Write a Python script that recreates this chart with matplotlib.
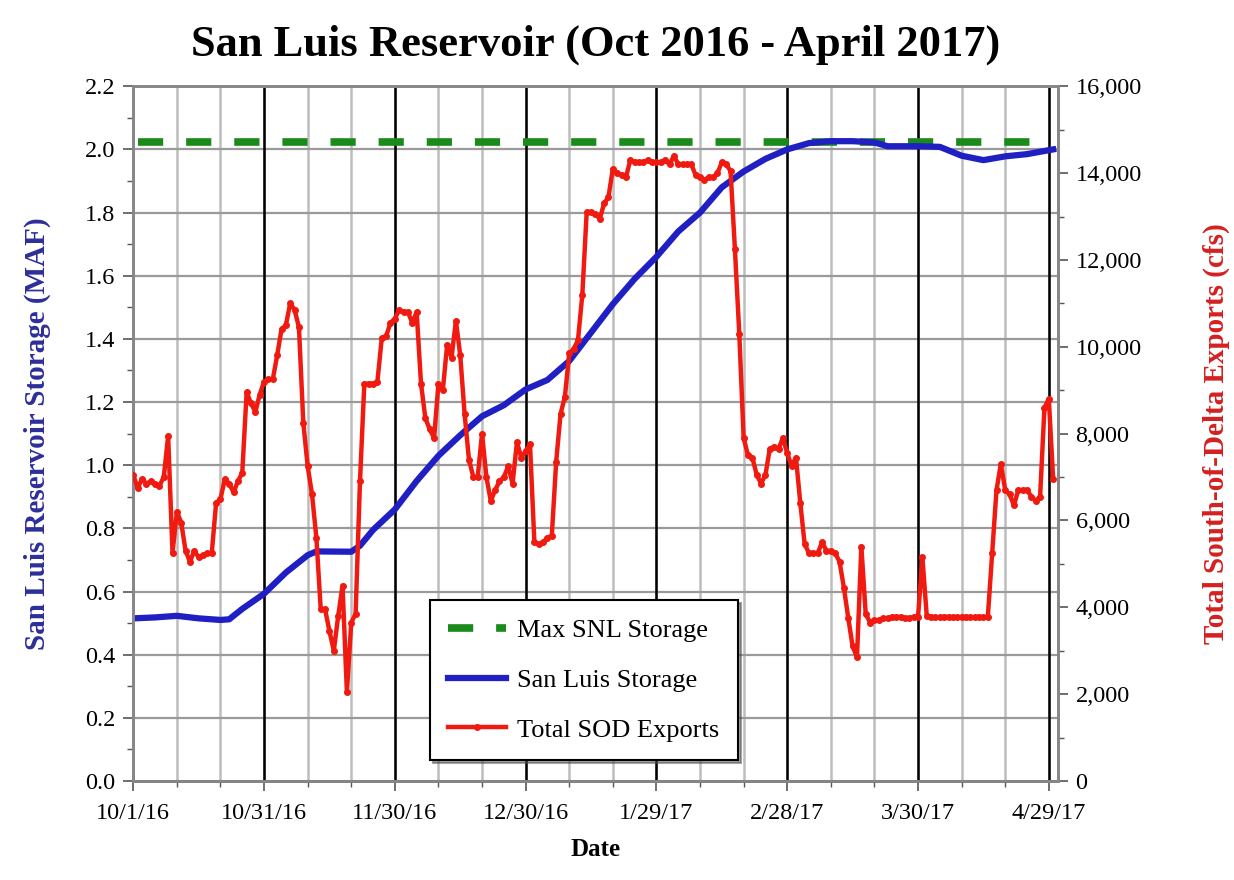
import numpy as np
import matplotlib
matplotlib.use('Agg')
import matplotlib.pyplot as plt
from matplotlib.ticker import MultipleLocator, FuncFormatter

plt.rcParams['font.family'] = ['Liberation Serif', 'DejaVu Serif']

# ─── Data (days since 10/1/16) ────────────────────────────────────────────────
tick_days = [0, 30, 60, 90, 120, 150, 180, 210]
tick_labels = ['10/1/16', '10/31/16', '11/30/16', '12/30/16',
               '1/29/17', '2/28/17', '3/30/17', '4/29/17']

max_storage = 2.025  # MAF

storage_days = [0, 5, 10, 15, 20, 22, 25, 30, 35, 40, 42, 50, 52, 55, 60, 65,
                70, 75, 80, 85, 90, 95, 100, 105, 110, 115, 120, 125, 130,
                135, 140, 145, 150, 155, 160, 165, 170, 173, 180, 185, 190,
                195, 200, 205, 211]
storage_maf = [0.515, 0.518, 0.523, 0.515, 0.510, 0.512, 0.545, 0.593, 0.660,
               0.715, 0.727, 0.726, 0.745, 0.795, 0.860, 0.950, 1.030, 1.095,
               1.155, 1.190, 1.240, 1.270, 1.330, 1.420, 1.510, 1.590, 1.660,
               1.740, 1.800, 1.880, 1.930, 1.970, 2.000, 2.020, 2.026, 2.026,
               2.022, 2.010, 2.010, 2.008, 1.980, 1.966, 1.978, 1.985, 2.000]

sod_exports = [
    7050, 6750, 6950, 6850, 6900, 6850, 6800, 7000, 7950, 5250,
    6200, 5950, 5300, 5050, 5300, 5150, 5200, 5250, 5250, 6400,
    6500, 6950, 6850, 6650, 6900, 7100, 8950, 8700, 8500, 8900,
    9200, 9250, 9250, 9800, 10400, 10500, 11000, 10850, 10450, 8250,
    7250, 6600, 5600, 3950, 3950, 3450, 3000, 3800, 4500, 2050,
    3650, 3850, 6900, 9150, 9150, 9150, 9200, 10200, 10250, 10550,
    10650, 10850, 10800, 10800, 10550, 10800, 9150, 8350, 8100, 7900,
    9150, 9000, 10050, 9750, 10600, 9800, 8450, 7400, 7000, 7000,
    8000, 7000, 6450, 6700, 6900, 7000, 7250, 6850, 7800, 7450,
    7600, 7750, 5500, 5450, 5500, 5600, 5650, 7350, 8450, 8850,
    9850, 9950, 10150, 11200, 13100, 13100, 13050, 12950, 13300, 13450,
    14100, 14000, 13950, 13900, 14300, 14250, 14250, 14250, 14300, 14250,
    14250, 14250, 14300, 14200, 14400, 14200, 14200, 14200, 14200, 13950,
    13900, 13850, 13900, 13900, 14000, 14250, 14200, 14050, 12250, 10300,
    7900, 7500, 7450, 7050, 6850, 7050, 7650, 7700, 7650, 7900,
    7550, 7250, 7450, 6400, 5450, 5250, 5250, 5250, 5500, 5300,
    5300, 5250, 5050, 4450, 3750, 3100, 2850, 5400, 3850, 3650,
    3700, 3700, 3750, 3750, 3780, 3780, 3780, 3750, 3750, 3780,
    3780, 5150, 3800, 3780, 3770, 3770, 3780, 3780, 3770, 3770,
    3780, 3780, 3770, 3770, 3780, 3770, 3770, 5250, 6700, 7300,
    6700, 6600, 6350, 6700, 6700, 6700, 6550, 6450, 6550, 8600,
    8800, 6950,
]
export_days = np.arange(len(sod_exports))

# ─── Figure ───────────────────────────────────────────────────────────────────
fig = plt.figure(figsize=(12.34, 8.8), dpi=100)
ax = fig.add_axes([0.108, 0.1125, 0.749, 0.7895])
ax2 = ax.twinx()

# grid: gray every 10 days / 0.2 MAF, black every 30 days
for d in range(0, 213, 10):
    ax.axvline(d, color='#bdbdbd', lw=1.8, zorder=0)
for d in tick_days:
    ax.axvline(d, color='black', lw=1.8, zorder=1)
for v in np.arange(0.2, 2.21, 0.2):
    ax.axhline(v, color='#9a9a9a', lw=1.6, zorder=0)

l1, = ax.plot([1, 210], [max_storage, max_storage], color='#1a8a1a', lw=5.5,
              linestyle=(0, (3.3, 3.0)), label='Max SNL Storage', zorder=3)
l2, = ax.plot(storage_days, storage_maf, color='#1f1fc4', lw=4.5,
              label='San Luis Storage', zorder=4)
l3, = ax2.plot(export_days, sod_exports, color='#f01a10', lw=3.2, marker='o',
               markersize=4, label='Total SOD Exports', zorder=5)

ax.set_xlim(0, 212)
ax.set_ylim(0, 2.2)
ax2.set_ylim(0, 16000)

ax.set_xticks(tick_days)
ax.set_xticklabels(tick_labels)
ax.xaxis.set_minor_locator(MultipleLocator(10))
ax.yaxis.set_major_locator(MultipleLocator(0.2))
ax.yaxis.set_minor_locator(MultipleLocator(0.1))
ax.yaxis.set_major_formatter(FuncFormatter(lambda v, _: f'{v:.1f}'))
ax2.yaxis.set_major_locator(MultipleLocator(2000))
ax2.yaxis.set_minor_locator(MultipleLocator(1000))
ax2.yaxis.set_major_formatter(FuncFormatter(lambda v, _: f'{int(v):,}'))

for a in (ax, ax2):
    a.tick_params(which='major', length=7, width=1.2, color='#555555',
                  labelsize=17.5, pad=6)
    a.tick_params(which='minor', length=4, width=1.0, color='#555555')
    for s in a.spines.values():
        s.set_color('#888888')
        s.set_linewidth(2.0)
ax.spines['bottom'].set_color('#444444')
ax.tick_params(axis='x', pad=9)

ax.set_xlabel('Date', fontsize=18, fontweight='bold', labelpad=10)
ax.set_ylabel('San Luis Reservoir Storage (MAF)', fontsize=21,
              fontweight='bold', color='#2e2e9a', labelpad=24)
ax2.set_ylabel('Total South-of-Delta Exports (cfs)', fontsize=21,
               fontweight='bold', color='#d42020', labelpad=44)
ax.set_title('San Luis Reservoir (Oct 2016 - April 2017)', fontsize=32,
             fontweight='bold', pad=22)

ax.set_zorder(1)
ax2.set_zorder(2)
ax2.patch.set_visible(False)

leg = ax2.legend(handles=[l1, l2, l3], loc='lower left',
                 bbox_to_anchor=(0.321, 0.03), borderaxespad=0,
                 fontsize=19, frameon=True, fancybox=False, shadow=True,
                 handlelength=2.2, labelspacing=1.0, borderpad=0.7,
                 handletextpad=0.4)
leg.get_frame().set_edgecolor('black')
leg.get_frame().set_linewidth(1.5)

fig.savefig('out.png', dpi=100)
